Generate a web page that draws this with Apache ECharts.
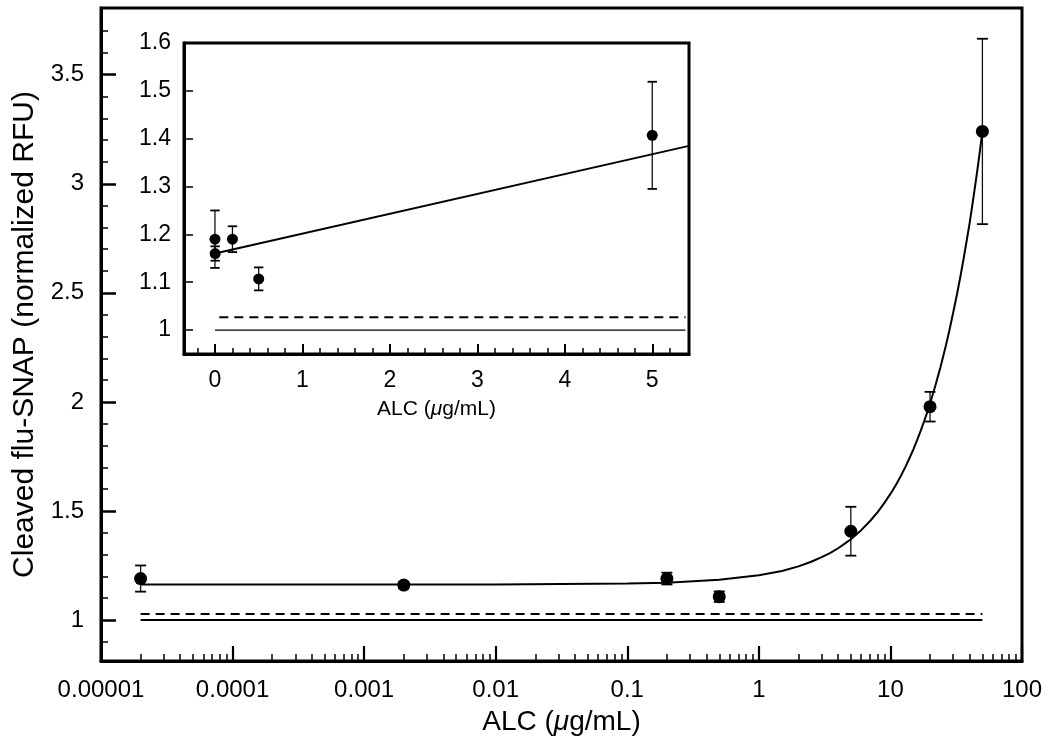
<!DOCTYPE html>
<html><head><meta charset="utf-8">
<script src="https://cdn.jsdelivr.net/npm/echarts@6/dist/echarts.min.js"></script>
<style>html,body{margin:0;padding:0;background:#fff}#c{width:1050px;height:752px}</style>
</head><body><div id="c"></div>
<script>
// ---- data ----
const conc   = [0.00002, 0.002, 0.2, 0.5, 5, 20, 50];          // ALC (ug/mL)
const signal = [1.19, 1.16, 1.19, 1.107, 1.407, 1.978, 3.24];   // cleaved flu-SNAP
const sem    = [0.06, 0.015, 0.027, 0.024, 0.112, 0.068, 0.425];

// fitted curve
const curveX = [0.00002, 0.01, 0.1, 0.2, 0.5, 1, 1.5, 2, 2.5, 3, 3.5, 4, 4.5, 5, 6, 7, 8, 9, 10, 11, 12, 13, 14, 15, 16, 17, 18, 19, 20, 22, 24, 26, 28, 30, 32, 34, 36, 38, 40, 42, 44, 46, 48, 50];
const curveY = [1.163, 1.163, 1.167, 1.171, 1.184, 1.205, 1.225, 1.246, 1.267, 1.288, 1.308, 1.329, 1.35, 1.37, 1.412, 1.454, 1.495, 1.537, 1.578, 1.619, 1.66, 1.702, 1.744, 1.785, 1.827, 1.868, 1.91, 1.951, 1.993, 2.076, 2.159, 2.242, 2.325, 2.41, 2.491, 2.574, 2.657, 2.74, 2.82, 2.906, 2.989, 3.072, 3.155, 3.24];

// reference lines
const refX = [0.00002, 50];
const baseY = 1.0;
const dashY = 1.027;

// inset fit line and reference lines
const insetFitX = [0, 5.42];
const insetFitY = [1.16, 1.385];
const insetRefX = [0, 5.38];
const insetDashX = [0.05, 5.38];

// axis ticks
const mainYMajor = [1, 1.5, 2, 2.5, 3, 3.5];
const mainYMinor = [0.9, 1.1, 1.2, 1.3, 1.4, 1.6, 1.7, 1.8, 1.9, 2.1, 2.2, 2.3, 2.4, 2.6, 2.7, 2.8, 2.9, 3.1, 3.2, 3.3, 3.4, 3.6, 3.7];
const mainXMajor = [0.00001, 0.0001, 0.001, 0.01, 0.1, 1, 10, 100];
const mainXLabels = ['0.00001', '0.0001', '0.001', '0.01', '0.1', '1', '10', '100'];
const insetYMajor = [1, 1.1, 1.2, 1.3, 1.4, 1.5, 1.6];
const insetXMajor = [0, 1, 2, 3, 4, 5];
const insetXMinor = [-0.2, 0.2, 0.4, 0.6, 0.8, 1.2, 1.4, 1.6, 1.8, 2.2, 2.4, 2.6, 2.8, 3.2, 3.4, 3.6, 3.8, 4.2, 4.4, 4.6, 4.8, 5.2];

// ---- build ----
const mainXMinor = [];
for (let d = -5; d < 2; d++) for (let m = 2; m <= 9; m++) mainXMinor.push(+(m * Math.pow(10, d)).toPrecision(3));

const F = 'Liberation Sans, Arial, Helvetica, sans-serif';
const errData = conc.map((x, i) => [x, signal[i], sem[i]]);
const insetErr = errData.filter(d => d[0] <= 5.42);

function errRender(w) {
  return function (params, api) {
    const x = api.value(0), y = api.value(1), e = api.value(2);
    const hi = api.coord([x, y + e]), lo = api.coord([x, y - e]);
    const st = { stroke: '#111', lineWidth: 1.3 };
    const cs = { stroke: '#000', lineWidth: 1.8 };
    return { type: 'group', children: [
      { type: 'line', shape: { x1: hi[0], y1: hi[1], x2: lo[0], y2: lo[1] }, style: st },
      { type: 'line', shape: { x1: hi[0] - w, y1: hi[1], x2: hi[0] + w, y2: hi[1] }, style: cs },
      { type: 'line', shape: { x1: lo[0] - w, y1: lo[1], x2: lo[0] + w, y2: lo[1] }, style: cs }
    ]};
  };
}

const pairs = (xs, ys) => xs.map((x, i) => [x, Array.isArray(ys) ? ys[i] : ys]);

const chart = echarts.init(document.getElementById('c'));
chart.setOption({
  animation: false,
  backgroundColor: '#fff',
  grid: [
    { left: 101, right: 28, top: 8, bottom: 91, show: true, borderColor: '#000', borderWidth: 3, backgroundColor: 'transparent' },
    { left: 184, right: 361, top: 43, bottom: 398, show: true, borderColor: '#000', borderWidth: 3, backgroundColor: '#fff' }
  ],
  xAxis: [
    { type: 'log', logBase: 10, gridIndex: 0, min: 0.00001, max: 100, position: 'bottom',
      name: '{a|ALC (}{i|μ}{a|g/mL)}', nameLocation: 'middle', nameGap: 47,
      nameTextStyle: { rich: { a: { fontSize: 28, fontFamily: F, color: '#000' }, i: { fontSize: 28, fontFamily: F, fontStyle: 'italic', color: '#000' } } },
      axisLine: { show: true, onZero: false, lineStyle: { color: '#000', width: 3 } },
      axisTick: { show: true, inside: true, length: 15, customValues: mainXMajor, lineStyle: { color: '#000', width: 2.2 } },
      axisLabel: { show: true, customValues: mainXMajor, margin: 17, fontSize: 24, fontFamily: F, color: '#000',
        formatter: v => { const i = mainXMajor.findIndex(t => Math.abs(Math.log10(t) - Math.log10(v)) < 1e-6); return i >= 0 ? mainXLabels[i] : ''; } },
      splitLine: { show: false }, minorTick: { show: false } },
    { type: 'log', logBase: 10, gridIndex: 0, min: 0.00001, max: 100, position: 'bottom', offset: 0,
      axisLine: { show: false, onZero: false },
      axisTick: { show: true, inside: true, length: 7, customValues: mainXMinor, lineStyle: { color: '#000', width: 1.5 } },
      axisLabel: { show: false }, splitLine: { show: false } },
    { type: 'value', gridIndex: 1, min: -0.354, max: 5.42, position: 'bottom',
      name: '{a|ALC (}{i|μ}{a|g/mL)}', nameLocation: 'middle', nameGap: 45,
      nameTextStyle: { rich: { a: { fontSize: 21, fontFamily: F, color: '#000' }, i: { fontSize: 21, fontFamily: F, fontStyle: 'italic', color: '#000' } } },
      axisLine: { show: true, onZero: false, lineStyle: { color: '#000', width: 3 } },
      axisTick: { show: true, inside: true, length: 10, customValues: insetXMajor, lineStyle: { color: '#000', width: 2 } },
      axisLabel: { show: true, customValues: insetXMajor, margin: 15, fontSize: 23, fontFamily: F, color: '#000' },
      splitLine: { show: false } },
    { type: 'value', gridIndex: 1, min: -0.354, max: 5.42, position: 'bottom', offset: 0,
      axisLine: { show: false, onZero: false },
      axisTick: { show: true, inside: true, length: 6, customValues: insetXMinor, lineStyle: { color: '#000', width: 1.5 } },
      axisLabel: { show: false }, splitLine: { show: false } }
  ],
  yAxis: [
    { type: 'value', gridIndex: 0, min: 0.812, max: 3.806, position: 'left',
      name: 'Cleaved flu-SNAP (normalized RFU)', nameLocation: 'middle', nameGap: 60,
      nameTextStyle: { fontSize: 30, fontFamily: F, color: '#000' },
      axisLine: { show: true, onZero: false, lineStyle: { color: '#000', width: 3 } },
      axisTick: { show: true, inside: true, length: 15, customValues: mainYMajor, lineStyle: { color: '#000', width: 2.5 } },
      axisLabel: { show: true, customValues: mainYMajor, margin: 17, fontSize: 24, fontFamily: F, color: '#000' },
      splitLine: { show: false } },
    { type: 'value', gridIndex: 0, min: 0.812, max: 3.806, position: 'left', offset: 0,
      axisLine: { show: false, onZero: false },
      axisTick: { show: true, inside: true, length: 7, customValues: mainYMinor, lineStyle: { color: '#000', width: 1.5 } },
      axisLabel: { show: false }, splitLine: { show: false } },
    { type: 'value', gridIndex: 1, min: 0.95, max: 1.6, position: 'left',
      axisLine: { show: true, onZero: false, lineStyle: { color: '#000', width: 3 } },
      axisTick: { show: true, inside: true, length: 9, customValues: insetYMajor, lineStyle: { color: '#000', width: 1.5 } },
      axisLabel: { show: true, customValues: insetYMajor, margin: 13, fontSize: 23, fontFamily: F, color: '#000' },
      splitLine: { show: false } }
  ],
  series: [
    // main chart
    { type: 'line', xAxisIndex: 0, yAxisIndex: 0, data: pairs(refX, baseY), symbol: 'none', lineStyle: { color: '#000', width: 2 }, silent: true },
    { type: 'line', xAxisIndex: 0, yAxisIndex: 0, data: pairs(refX, dashY), symbol: 'none', lineStyle: { color: '#000', width: 2, type: [9, 6] }, silent: true },
    { type: 'line', xAxisIndex: 0, yAxisIndex: 0, data: pairs(curveX, curveY), symbol: 'none', smooth: false, lineStyle: { color: '#000', width: 2 }, silent: true },
    { type: 'custom', xAxisIndex: 0, yAxisIndex: 0, data: errData, renderItem: errRender(5.5), encode: { x: 0, y: 1 }, silent: true },
    { type: 'scatter', xAxisIndex: 0, yAxisIndex: 0, data: pairs(conc, signal), symbol: 'circle', symbolSize: 13, itemStyle: { color: '#000', opacity: 1 }, silent: true, z: 5 },
    // inset
    { type: 'line', xAxisIndex: 2, yAxisIndex: 2, data: pairs(insetRefX, baseY), symbol: 'none', lineStyle: { color: '#000', width: 1.2 }, silent: true, z: 6 },
    { type: 'line', xAxisIndex: 2, yAxisIndex: 2, data: pairs(insetDashX, dashY), symbol: 'none', lineStyle: { color: '#000', width: 2, type: [9, 6] }, silent: true, z: 6 },
    { type: 'line', xAxisIndex: 2, yAxisIndex: 2, data: pairs(insetFitX, insetFitY), symbol: 'none', lineStyle: { color: '#000', width: 2 }, silent: true, z: 6 },
    { type: 'custom', xAxisIndex: 2, yAxisIndex: 2, data: insetErr, renderItem: errRender(4.7), encode: { x: 0, y: 1 }, silent: true, z: 6 },
    { type: 'scatter', xAxisIndex: 2, yAxisIndex: 2, data: pairs(insetErr.map(d => d[0]), insetErr.map(d => d[1])), symbol: 'circle', symbolSize: 11, itemStyle: { color: '#000', opacity: 1 }, silent: true, z: 7 }
  ]
});
</script></body></html>
